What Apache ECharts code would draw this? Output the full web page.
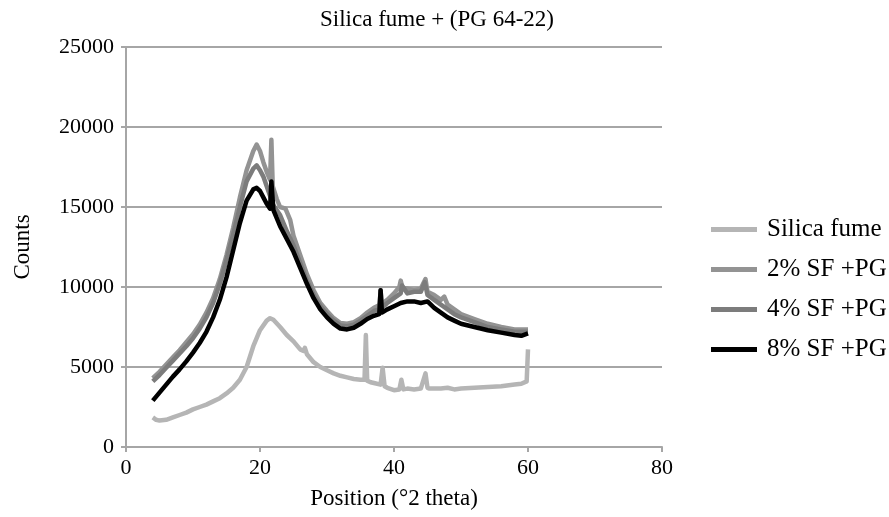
<!DOCTYPE html>
<html><head><meta charset="utf-8">
<script src="https://cdn.jsdelivr.net/npm/echarts@6/dist/echarts.min.js"></script>
<style>html,body{margin:0;padding:0;background:#fff}#c{width:889px;height:517px}</style>
</head><body><div id="c"></div>
<script>
var titleText = 'Silica fume + (PG 64-22)';
var seriesNames = ['Silica fume', '2% SF +PG', '4% SF +PG', '8% SF +PG'];
var xTicks = [0, 20, 40, 60, 80];
var yTicks = [0, 5000, 10000, 15000, 20000, 25000];

var sfX = [4,4.5,5,6,7,8,9,10,11,12,13,14,15,16,17,18,19,20,21,21.5,22,23,24,25,26,26.5,26.7,27,28,29,30,31,32,33,34,35,35.6,35.8,36,36.5,37,38,38.3,38.6,39,40,40.8,41.1,41.4,42,43,44,44.7,45,45.3,46,47,48,49,50,52,54,56,58,59,59.8,60];
var sfY = [1850,1700,1650,1700,1850,2000,2150,2350,2500,2650,2850,3050,3350,3700,4200,5000,6300,7300,7900,8050,7950,7500,7000,6600,6100,6000,6200,5800,5300,5000,4800,4600,4450,4350,4250,4200,4200,7000,4150,4050,4000,3900,4950,3800,3700,3550,3600,4200,3600,3650,3600,3650,4600,3700,3650,3650,3650,3700,3600,3650,3700,3750,3800,3900,3950,4100,6100];

var p2X = [4,5,6,7,8,9,10,11,12,13,14,15,16,17,18,19,19.5,20,20.5,21,21.5,21.7,21.9,22.5,23,23.8,24.5,25,26,27,28,29,30,31,32,33,34,35,36,37,38,39,40,40.8,41,41.3,42,43,44,44.7,45,46,47,47.5,48,49,50,52,54,56,58,60];
var p2Y = [4300,4700,5150,5600,6050,6550,7050,7650,8400,9300,10500,12000,13700,15600,17300,18500,18900,18500,17800,17200,16700,19200,16300,15500,15000,14900,14200,13200,12000,10800,9800,9000,8500,8050,7750,7700,7800,8050,8400,8700,8900,9200,9600,10000,10400,9900,9900,9800,9900,10500,9700,9500,9200,9400,8900,8600,8300,8000,7700,7500,7350,7350];

var p4X = [4,5,6,7,8,9,10,11,12,13,14,15,16,17,18,19,19.5,20,20.5,21,22,23,24,25,26,27,28,29,30,31,32,33,34,35,36,37,37.8,38,38.2,39,40,41,41.2,42,43,44,44.6,45,46,47,48,49,50,52,54,56,58,60];
var p4Y = [4100,4500,4950,5400,5850,6300,6800,7400,8100,9000,10200,11700,13300,15000,16600,17400,17600,17300,16900,16300,15100,14500,13500,12600,11500,10400,9500,8800,8300,7900,7600,7550,7650,7900,8200,8500,8600,9800,8700,9000,9300,9600,10100,9600,9700,9700,10300,9500,9200,8900,8600,8300,8100,7800,7500,7350,7200,7200];

var p8X = [4,5,6,7,8,9,10,11,12,13,14,15,16,17,18,19,19.5,20,20.5,21,21.5,21.7,22,23,24,25,26,27,28,29,30,31,32,33,34,35,36,37,37.8,38,38.2,39,40,41,42,43,44,45,46,47,48,49,50,52,54,56,58,59,60];
var p8Y = [2900,3400,3900,4400,4850,5350,5900,6500,7200,8100,9200,10600,12300,14000,15400,16100,16200,16000,15600,15200,14900,16600,14800,13800,13000,12200,11200,10200,9300,8600,8100,7700,7400,7350,7450,7700,8000,8200,8300,9800,8400,8600,8800,9000,9100,9100,9000,9100,8700,8400,8100,7900,7700,7500,7300,7150,7000,6950,7100];

var colors = ['#b5b5b5', '#939393', '#7c7c7c', '#000000'];
function zip(xs, ys){ var o=[]; for(var i=0;i<Math.min(xs.length,ys.length);i++) o.push([xs[i],ys[i]]); return o; }
var dataSets = [zip(sfX,sfY), zip(p2X,p2Y), zip(p4X,p4Y), zip(p8X,p8Y)];
var font = 'Liberation Serif, Times New Roman, serif';

var chart = echarts.init(document.getElementById('c'), null, {renderer:'canvas'});
chart.setOption({
  animation: false,
  backgroundColor: '#ffffff',
  title: { text: titleText, left: 432, top: 3, textAlign: 'center',
    textStyle: { fontFamily: font, fontSize: 23, fontWeight: 'normal', color: '#000' } },
  grid: { left: 126, right: 227, top: 47, bottom: 70, containLabel: false },
  legend: {
    orient: 'vertical', left: 706, top: 212, itemWidth: 46, itemHeight: 5, itemGap: 15,
    icon: 'rect',
    data: seriesNames,
    textStyle: { fontFamily: font, fontSize: 25, color: '#000', lineHeight: 25, padding: [0,0,0,5] }
  },
  xAxis: {
    type: 'value', min: 0, max: 80, interval: 20,
    name: 'Position (°2 theta)', nameLocation: 'middle', nameGap: 40,
    nameTextStyle: { fontFamily: font, fontSize: 23, color: '#000' },
    axisLine: { lineStyle: { color: '#a6a6a6', width: 2 } },
    axisTick: { show: true, length: 5, lineStyle: { color: '#a6a6a6', width: 2 } },
    axisLabel: { fontFamily: font, fontSize: 22, color: '#000', margin: 10,
      formatter: function(v){ return xTicks.indexOf(v) >= 0 ? String(v) : ''; } },
    splitLine: { show: false }
  },
  yAxis: {
    type: 'value', min: 0, max: 25000, interval: 5000,
    name: 'Counts', nameLocation: 'middle', nameGap: 92, nameRotate: 90,
    nameTextStyle: { fontFamily: font, fontSize: 23, color: '#000' },
    axisLine: { show: true, lineStyle: { color: '#a6a6a6', width: 2 } },
    axisTick: { show: true, length: 5, inside: false, lineStyle: { color: '#a6a6a6', width: 2 } },
    axisLabel: { fontFamily: font, fontSize: 22, color: '#000', margin: 12,
      formatter: function(v){ return yTicks.indexOf(v) >= 0 ? String(v) : ''; } },
    splitLine: { show: true, lineStyle: { color: '#a6a6a6', width: 2 } }
  },
  series: seriesNames.map(function(n, i){
    return { name: n, type: 'line', data: dataSets[i], symbol: 'none', showSymbol: false,
      color: colors[i], lineStyle: { color: colors[i], width: 4.5, join: 'round' }, z: 2 + i };
  })
});
</script></body></html>
